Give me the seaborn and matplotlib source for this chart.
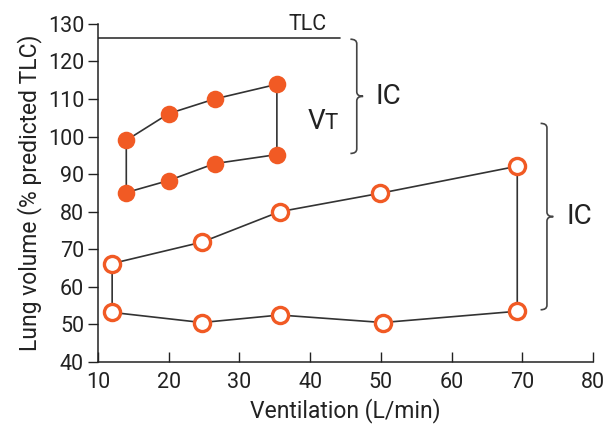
import numpy as np
import pandas as pd
import matplotlib
matplotlib.use("Agg")
import matplotlib.pyplot as plt
import seaborn as sns
from matplotlib.path import Path
from matplotlib.patches import PathPatch

# filled loop (upper row left->right, then lower row right->left)
vent_filled = [14.0, 20.0, 26.5, 35.3, 35.3, 26.5, 20.0, 14.0]
vol_filled = [99.0, 106.1, 110.0, 113.9, 95.2, 92.8, 88.3, 85.1]
# open loop
vent_open = [12.0, 24.7, 35.7, 49.9, 69.3, 69.3, 50.3, 35.7, 24.7, 12.0]
vol_open = [66.2, 71.9, 80.0, 84.9, 92.1, 53.5, 50.5, 52.5, 50.5, 53.2]
tlc_value = 126.3
tlc_end = 44.2

orange = "#f15a24"
dark = "#333333"
txt = "#222222"

sns.set_theme(style="ticks")
plt.rcParams["font.family"] = ["Roboto", "DejaVu Sans"]

def closed(xs, ys):
    return pd.DataFrame({"x": list(xs) + [xs[0]], "y": list(ys) + [ys[0]]})

fig = plt.figure(figsize=(6.05, 4.33), dpi=100)
ax = fig.add_axes([0.162, 0.164, 0.818, 0.781])

df_f = closed(vent_filled, vol_filled)
df_o = closed(vent_open, vol_open)
sns.lineplot(data=df_f, x="x", y="y", sort=False, estimator=None, color=dark, lw=1.2, ax=ax, zorder=2)
sns.lineplot(data=df_o, x="x", y="y", sort=False, estimator=None, color=dark, lw=1.2, ax=ax, zorder=2)
sns.scatterplot(x=vent_filled, y=vol_filled, color=orange, s=160, edgecolor=orange, linewidth=0, ax=ax, zorder=3)
sns.scatterplot(x=vent_open, y=vol_open, color="white", s=135, edgecolor=orange, linewidth=2.4, ax=ax, zorder=3)

ax.plot([10, tlc_end], [tlc_value, tlc_value], color=dark, lw=1.2)
ax.text(tlc_end - 4.5, tlc_value + 0.6, "TLC", fontsize=15.5, color=txt, ha="center", va="bottom")

def brace(ax, x, y0, y1, w=0.9):
    ym = (y0 + y1) / 2
    h = 1.2
    verts = [(x - w, y1), (x, y1), (x, y1 - h), (x, ym + h), (x, ym), (x + w, ym),
             (x, ym), (x, ym - h), (x, y0 + h), (x, y0), (x - w, y0)]
    codes = [Path.MOVETO, Path.CURVE3, Path.CURVE3, Path.LINETO, Path.CURVE3, Path.CURVE3,
             Path.CURVE3, Path.CURVE3, Path.LINETO, Path.CURVE3, Path.CURVE3]
    ax.add_patch(PathPatch(Path(verts, codes), fill=False, color="#444444", lw=1.2, clip_on=False))

brace(ax, 46.6, 95.5, 125.9)
brace(ax, 73.5, 53.9, 103.5)
ax.text(49.3, 110.7, "IC", fontsize=20, color=txt, va="center", ha="left")
ax.text(76.3, 78.7, "IC", fontsize=20, color=txt, va="center", ha="left")
ax.text(39.6, 104, "V", fontsize=20, color=txt, va="center", ha="left")
ax.text(42.0, 103.6, "T", fontsize=16, color=txt, va="center", ha="left")

ax.set_xlim(10, 80)
ax.set_ylim(40, 130)
ax.set_xticks(np.arange(10, 81, 10))
ax.set_yticks(np.arange(40, 131, 10))
ax.tick_params(axis="x", direction="in", length=7, width=1, labelsize=15.5, colors=txt, pad=7)
ax.tick_params(axis="y", direction="out", length=7, width=1, labelsize=15.5, colors=txt, pad=3)
ax.set_xlabel("Ventilation (L/min)", fontsize=16.5, color=txt, labelpad=4)
ax.set_ylabel("Lung volume (% predicted TLC)", fontsize=16.5, color=txt, labelpad=4)
sns.despine(ax=ax)
for s in ["left", "bottom"]:
    ax.spines[s].set_color(txt)
    ax.spines[s].set_linewidth(1.1)

fig.savefig("out.png", dpi=100)
